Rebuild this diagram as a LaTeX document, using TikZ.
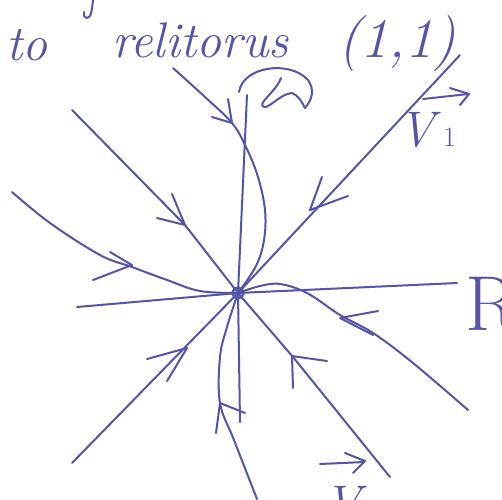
\documentclass[tikz,border=0pt]{standalone}
\usetikzlibrary{calc}
\definecolor{ink}{RGB}{84,84,168}
\tikzset{
  ink/.style={draw=ink, line width=2pt, line cap=round, line join=round},
  barb/.style={ink},
  hand/.style={text=ink, inner sep=0pt, font=\fontsize{50}{50}\selectfont\itshape},
}
\begin{document}
\begin{tikzpicture}[x=1pt,y=-1pt]
\useasboundingbox (0,0) rectangle (502,499);
\clip (0,0) rectangle (502,499);
\fill[white] (0,0) rectangle (502,499);
% centre
\coordinate (O) at (238,293);
% end points
\coordinate (a1) at (460,55);  \coordinate (a2) at (72,463);
\coordinate (b1) at (72,110);  \coordinate (b2) at (390,477);
\coordinate (c1) at (77,307);  \coordinate (c2) at (457,283);
\coordinate (g1) at (247,95);  \coordinate (g2) at (240,422);
% straight trajectories
\draw[ink] (a1) -- (O) -- (a2);
\draw[ink] (b1) -- (185,225) -- (O) -- (293,357) -- (b2);
\draw[ink] (c1) -- (O) -- (c2);
\draw[ink] (g1) -- (O) -- (g2);
% curved trajectories
\draw[ink] plot[smooth,tension=0.6] coordinates {(12,192) (50,223) (100,255) (132,267) (167,280) (200,291) (O)};
\draw[ink] plot[smooth,tension=0.6] coordinates {(468,410) (413,363) (373,333) (340,315) (307,293) (280,284) (260,286) (O)};
\draw[ink] plot[smooth,tension=0.6] coordinates {(173,68) (205,97) (232,123) (246,147) (258,177) (265,210) (264,240) (256,266) (O)};
\draw[ink] plot[smooth,tension=0.6] coordinates {(257,499) (234,440) (220,403) (220,357) (227,327) (O)};
% centre point
\draw[ink, line width=2.4pt] (O) circle (5.5);
% arrow heads
\draw[barb] (322,177) -- (310,210) -- (348,196);
\draw[barb] (147,359) -- (187,348) -- (167,381);
\draw[barb] (172,194) -- (185,225) -- (157,218);
\draw[barb] (327,361) -- (292,356) -- (293,388);
\draw[barb] (110,252) -- (132,265) -- (93,280);
\draw[barb] (378,311) -- (340,318) -- (373,335);
\draw[barb] (228,99) -- (232,123) -- (212,117);
\draw[barb] (216,433) -- (220,403) -- (245,413);
% squiggle near the top
\draw[ink] (239,92) .. controls (243,66) and (290,60) .. (308,80) .. controls (315,90) and (312,100) .. (305,108);
\draw[ink] (281,78) .. controls (276,92) and (256,104) .. (264,107) .. controls (270,108) and (280,94) .. (292,93) .. controls (298,95) and (302,102) .. (305,108);
\draw[ink] (93,0) .. controls (92,10) and (91,18) .. (87,18) .. controls (84,17) .. (84,12);
% texts
\node[hand, anchor=base west] (t1) at (6,60) {to};
\node[hand, anchor=base west] (t2) at (112,57) {relitorus};
\node[hand, anchor=base west, font=\fontsize{56}{56}\selectfont\itshape] (t3) at (338,57) {(1,1)};
% vector V1
\node[hand, anchor=base west] (v1) at (398,146) {V};
\node[hand, anchor=base west, font=\fontsize{28}{28}\selectfont] (v1s) at (443,146) {1};
\draw[ink] (423,99) -- (468,94);
\draw[barb] (450,88) -- (469,94) -- (460,105);
% vector V (bottom)
\node[hand, anchor=base west] (v2) at (324,520) {V};
\draw[ink] (320,464) -- (364,462);
\draw[barb] (345,453) -- (365,461) -- (353,473);
% R
\node[hand, anchor=base west, font=\fontsize{78}{78}\selectfont] (r) at (465,330) {R};
\end{tikzpicture}
\end{document}
